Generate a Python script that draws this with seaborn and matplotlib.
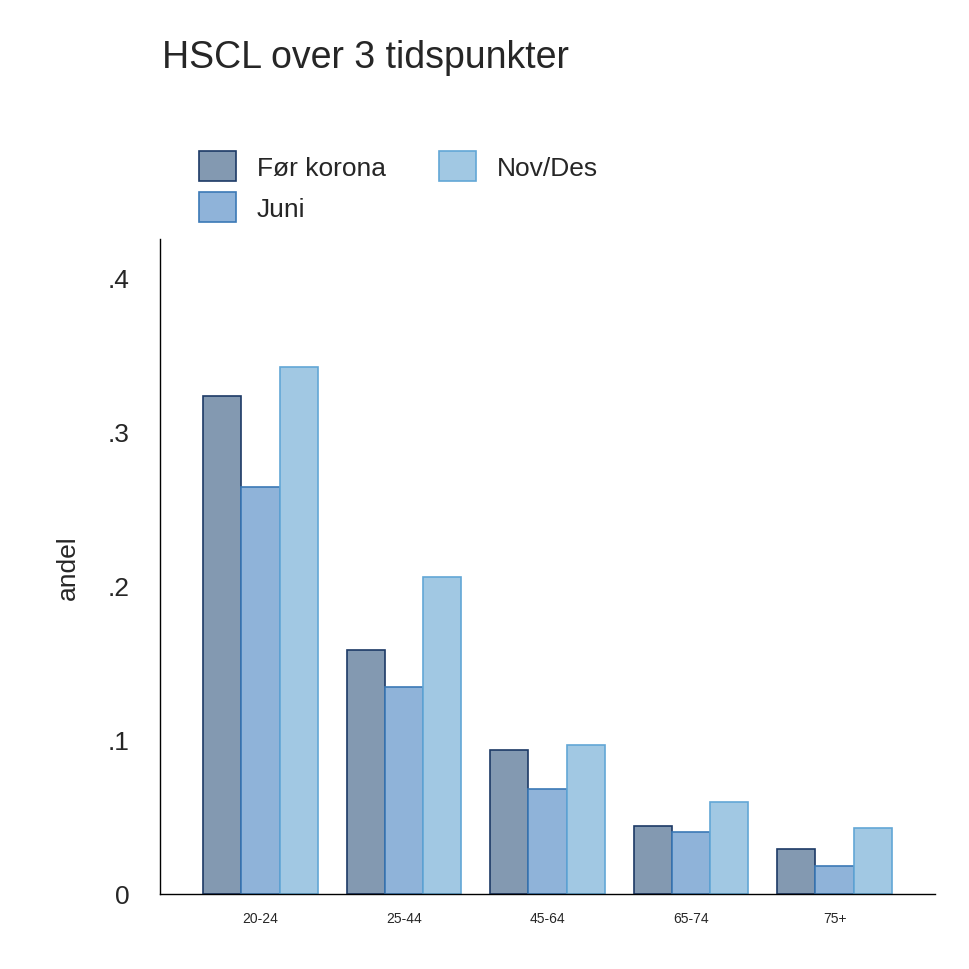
import matplotlib
matplotlib.use("Agg")
import matplotlib.pyplot as plt
import seaborn as sns
import pandas as pd

categories = ["20-24", "25-44", "45-64", "65-74", "75+"]
series = ["Før korona", "Juni", "Nov/Des"]
for_korona = [0.323, 0.158, 0.0935, 0.044, 0.029]
juni = [0.264, 0.134, 0.068, 0.040, 0.018]
nov_des = [0.342, 0.206, 0.097, 0.060, 0.043]
yticks = [0, 0.1, 0.2, 0.3, 0.4]
yticklabels = ["0", ".1", ".2", ".3", ".4"]

rows = []
for s, vals in zip(series, [for_korona, juni, nov_des]):
    for c, v in zip(categories, vals):
        rows.append({"alder": c, "serie": s, "andel": v})
df = pd.DataFrame(rows)

sns.set_theme(style="white")
plt.rcParams["font.family"] = ["Liberation Sans", "DejaVu Sans"]
fills = ["#8399b1", "#8fb3d9", "#a1c8e3"]
edges = ["#1c3a66", "#3b79b6", "#62a7d6"]

fig = plt.figure(figsize=(9.7, 9.7), dpi=100)
ax = fig.add_axes([160/970, 75/970, 775/970, 655/970])
sns.barplot(data=df, x="alder", y="andel", hue="serie", palette=fills,
            width=0.8, ax=ax, legend=False, saturation=1)
for i, cont in enumerate(ax.containers):
    for p in cont:
        p.set_edgecolor(edges[i]); p.set_linewidth(1.2)
ax.set_xlim(-0.7, 4.7)
ax.set_ylim(0, 0.425)
ax.set_yticks(yticks)
ax.set_yticklabels(yticklabels, fontsize=19)
ax.tick_params(axis="x", labelsize=10, length=0, pad=12)
ax.tick_params(axis="y", length=0, pad=22)
ax.set_xlabel("")
ax.set_ylabel("andel", fontsize=19, labelpad=20)
for sp in ["top", "right"]:
    ax.spines[sp].set_visible(False)
for sp in ["left", "bottom"]:
    ax.spines[sp].set_color("black"); ax.spines[sp].set_linewidth(1)

fig.text(162/970, 1-58/970, "HSCL over 3 tidspunkter", fontsize=27, va="center")
from matplotlib.patches import Patch
handles = [Patch(facecolor=f, edgecolor=e, linewidth=1.2) for f, e in zip(fills, edges)]
fig.legend(handles, series, loc="upper left", bbox_to_anchor=(175/970, 1-128/970),
           ncol=2, frameon=False, fontsize=19, handlelength=1.4, handleheight=1.4,
           columnspacing=2.0, labelspacing=0.4, handletextpad=0.8)
fig.savefig("out.png", dpi=100)
